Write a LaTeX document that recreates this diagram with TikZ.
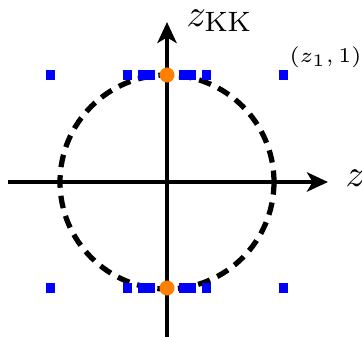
\documentclass[tikz,border=0pt]{standalone}
\usetikzlibrary{arrows.meta}
\begin{document}
\begin{tikzpicture}[x=0.2857pt,y=-0.2857pt,
 axis/.style={line width=1.35pt,-{Stealth[length=6pt,width=5.5pt,inset=1.6pt]}},
 ring/.style={line width=1.5pt,dash pattern=on 3.6pt off 2.3pt},
 sq/.style={fill=blue,minimum size=2.7pt,inner sep=0pt,outer sep=0pt},
 dotpt/.style={circle,fill=orange,minimum size=4.3pt,inner sep=0pt},
 lbl/.style={inner sep=0pt,anchor=base west}]
\useasboundingbox (0,0) rectangle (362,336);
\coordinate (O) at (167,182);
\coordinate (xl) at (8,182);
\coordinate (xr) at (328,182);
\coordinate (yb) at (167,340);
\coordinate (yt) at (167,22);
\draw[ring] (O) circle[radius=107];
\foreach \n/\px in {a/50.5,b/127.5,c/142.5,d/150.5,e/183.5,f/191.5,g/206.5,h/283.5}{
  \node[sq] (t\n) at (\px,75) {};
  \node[sq] (b\n) at (\px,288) {};
}
\draw[axis] (xl) -- (xr);
\draw[axis] (yb) -- (yt);
\node[dotpt] (top) at (167,75) {};
\node[dotpt] (bot) at (167,288) {};
\node[lbl,font=\fontsize{11}{13}\selectfont] (lz) at (345,186) {$z$};
\node[lbl,font=\fontsize{11}{13}\selectfont] (lkk) at (186,26) {$z_{\mathrm{KK}}$};
\node[lbl,font=\fontsize{6}{7}\selectfont] (lp) at (289,62) {$(z_1,1)$};
\end{tikzpicture}
\end{document}
